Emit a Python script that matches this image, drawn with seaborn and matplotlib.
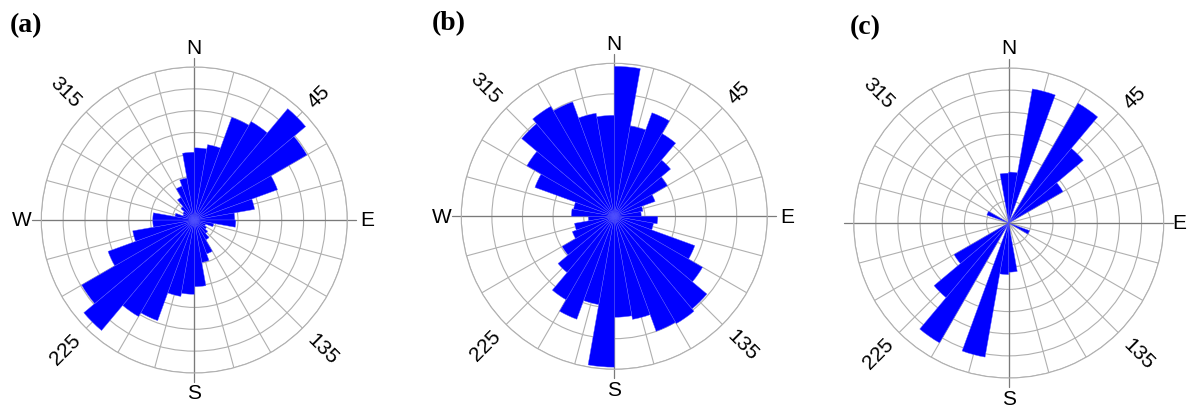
import numpy as np
import pandas as pd
import matplotlib
matplotlib.use("Agg")
import matplotlib.pyplot as plt
import seaborn as sns

# 10-degree direction bins, centres measured clockwise from north
bin_centres_deg = np.arange(5, 360, 10)

# Frequencies per bin for the three rose diagrams
freq_a = [3.3, 3.5, 5.0, 5.2, 6.65, 5.95, 4.05, 2.8, 1.85, 1.9, 0.9, 0.55,
          0.65, 0.8, 1.05, 1.65, 1.97, 3.05, 3.4, 3.55, 4.9, 5.1, 6.6, 5.95,
          4.2, 2.86, 1.9, 1.9, 0.9, 0.55, 0.6, 0.8, 1.2, 1.65, 1.95, 3.1]
freq_b = [4.9, 3.0, 3.6, 3.12, 2.4, 2.0, 1.42, 0.95, 0.88, 1.42, 1.3, 2.8,
          3.33, 3.95, 4.05, 4.0, 3.42, 3.3, 4.93, 2.93, 3.58, 3.15, 2.4, 1.97,
          1.46, 1.32, 0.85, 1.4, 1.35, 2.76, 3.3, 3.95, 4.15, 3.98, 3.42, 3.3]
freq_c = [2.3, 6.15, 0, 6.25, 4.4, 2.83, 0, 0, 0, 0, 0, 1.0,
          0, 0, 0, 0, 0, 2.22, 2.33, 6.15, 0, 6.25, 4.4, 2.85,
          0, 0, 0, 0, 0, 1.05, 0, 0, 0, 0, 0, 2.25]

panel_tags = ["(a)", "(b)", "(c)"]
ring_counts = [7, 5, 7]
cardinal_labels = {0: "N", 90: "E", 180: "S", 270: "W"}
diagonal_labels = {45: "45", 135: "135", 225: "225", 315: "315"}

sns.set_theme(style="white")
plt.rcParams["font.family"] = ["Liberation Sans", "DejaVu Sans"]
plt.rcParams["text.color"] = "black"

W, H = 1188, 410
fig = plt.figure(figsize=(W / 100, H / 100), dpi=100)
fig.patch.set_facecolor("white")

# (centre x, centre y from top, radius) in pixels for each diagram
layout = [(194.3, 221.0, 153.0), (614.3, 217.3, 153.0), (1008.7, 224.0, 155.0)]
tag_pos = [(10, 26), (432, 24), (850, 28)]

GRID = "#b0b0b0"
AXIS = "#7a7a7a"
BLUE = "#0000ff"

for i, (freqs, (cx, cy, rad)) in enumerate(zip([freq_a, freq_b, freq_c], layout)):
    rect = [(cx - rad) / W, (H - cy - rad) / H, 2 * rad / W, 2 * rad / H]
    ax = fig.add_axes(rect, projection="polar")
    ax.set_theta_zero_location("N")
    ax.set_theta_direction(-1)
    ax.set_facecolor("white")

    df = pd.DataFrame({"direction": np.deg2rad(bin_centres_deg), "freq": freqs})
    sns.histplot(data=df, x="direction", weights="freq", bins=36,
                 binrange=(0, 2 * np.pi), stat="count", color=BLUE, alpha=1,
                 edgecolor="#5a5aff", linewidth=0.3, ax=ax, zorder=2)
    ax.set_xlabel("")
    ax.set_ylabel("")

    rmax = ring_counts[i]
    ax.set_ylim(0, rmax)
    ax.set_rorigin(0)
    ax.set_axisbelow(True)

    # light grid: spokes every 15 degrees, evenly spaced rings
    ax.set_xticks(np.deg2rad(np.arange(0, 360, 15)))
    ax.set_xticklabels([])
    ax.set_yticks(np.arange(1, rmax + 1))
    ax.set_yticklabels([])
    ax.grid(True, color=GRID, linewidth=0.8)
    ax.spines["polar"].set_color(GRID)
    ax.spines["polar"].set_linewidth(0.8)
    ax.tick_params(length=0)

    # darker compass axes extending past the rim
    for ang in (0, 90, 180, 270):
        th = np.deg2rad(ang)
        ax.plot([th, th], [0, rmax * 1.06], color=AXIS, linewidth=0.9,
                clip_on=False, zorder=1)

    for ang, lab in cardinal_labels.items():
        if i == 2 and lab == "W":
            continue
        r_lab = 1.10 if (i == 2 and lab == "E") else 1.13
        ax.text(np.deg2rad(ang), rmax * r_lab, lab, ha="center", va="center",
                fontsize=15, color="black", clip_on=False)

    for ang, lab in diagonal_labels.items():
        rot = 45 if ang in (45, 225) else -45
        ha = "left" if ang in (45, 135) else "right"
        ax.text(np.deg2rad(ang), rmax * 1.075, lab, ha=ha, va="center",
                rotation=rot, rotation_mode="anchor", fontsize=15,
                color="black", clip_on=False)

    tx, ty = tag_pos[i]
    fig.text(tx / W, 1 - ty / H, panel_tags[i], ha="left", va="center",
             fontsize=20, fontweight="bold", family="Liberation Serif",
             color="black")

fig.savefig("out.png", dpi=100, facecolor="white")
